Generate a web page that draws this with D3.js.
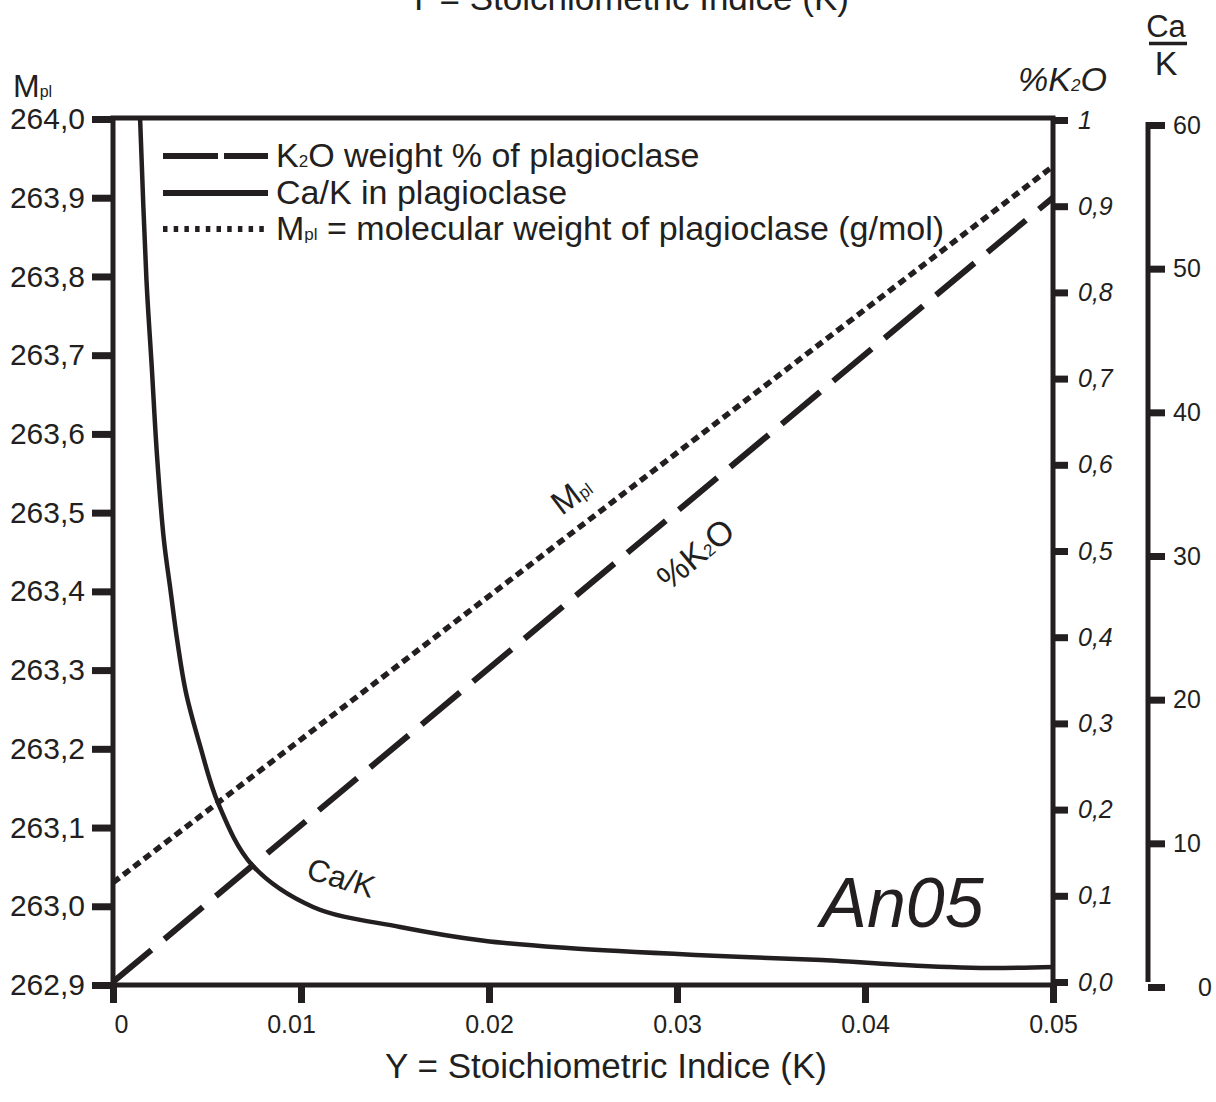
<!DOCTYPE html>
<html>
<head>
<meta charset="utf-8">
<script src="https://cdn.jsdelivr.net/npm/d3@7"></script>
<style>
  body { margin: 0; background: #fff; }
  text { font-family: "Liberation Sans", Arial, sans-serif; fill: #231f20; }
</style>
</head>
<body>
<svg id="chart"></svg>
<script>
const svgWidth = 1216, svgHeight = 1102;
const ink = '#231f20';

// ticks
const xTicks = [0, 0.01, 0.02, 0.03, 0.04, 0.05];
const xTickLabels = ['0', '0.01', '0.02', '0.03', '0.04', '0.05'];
const mplTicks = [262.9, 263.0, 263.1, 263.2, 263.3, 263.4, 263.5, 263.6, 263.7, 263.8, 263.9, 264.0];
const mplTickLabels = ['262,9', '263,0', '263,1', '263,2', '263,3', '263,4', '263,5', '263,6', '263,7', '263,8', '263,9', '264,0'];
const k2oTicks = [0, 0.1, 0.2, 0.3, 0.4, 0.5, 0.6, 0.7, 0.8, 0.9, 1];
const k2oTickLabels = ['0,0', '0,1', '0,2', '0,3', '0,4', '0,5', '0,6', '0,7', '0,8', '0,9', '1'];
const caKTicks = [0, 10, 20, 30, 40, 50, 60];
const caKTickLabels = ['0', '10', '20', '30', '40', '50', '60'];

// series (x = stoichiometric indice K)
const mplX = [0, 0.05];
const mplY = [263.03, 263.94];
const k2oX = [0, 0.05];
const k2oY = [0, 0.91];
const caKX = [0.00144, 0.00178, 0.00206, 0.00233, 0.0027, 0.00306, 0.00343, 0.00388, 0.00463, 0.00559,
              0.00739, 0.01064, 0.01527, 0.01973, 0.0242, 0.031, 0.0377, 0.0421, 0.0444, 0.0466, 0.05];
const caKY = [60.5, 49.2, 43.2, 37.2, 31.2, 27.6, 24.0, 20.5, 16.8, 12.8,
              8.5, 5.57, 4.18, 3.22, 2.71, 2.23, 1.88, 1.53, 1.39, 1.32, 1.39];

const svg = d3.select('#chart')
    .attr('width', svgWidth)
    .attr('height', svgHeight);

const x = d3.scaleLinear().domain([0, 0.05]).range([113, 1053]);
const yM = d3.scaleLinear().domain([262.9, 264.0]).range([985, 119]);
const yK = d3.scaleLinear().domain([0, 1]).range([982, 120]);
const yC = d3.scaleLinear().domain([0, 60]).range([987, 125]);

svg.append('clipPath').attr('id', 'plot')
    .append('rect')
    .attr('x', x(0)).attr('y', 118)
    .attr('width', x(0.05) - x(0)).attr('height', 985 - 118);

function styleAxis(g, size, italic) {
    g.select('.domain').remove();
    g.selectAll('line').attr('stroke', ink).attr('stroke-width', 7);
    g.selectAll('text')
        .attr('fill', ink)
        .style('font-size', size + 'px')
        .style('font-family', '"Liberation Sans", Arial, sans-serif')
        .style('font-style', italic ? 'italic' : 'normal');
}

// left axis: Mpl
svg.append('g')
    .attr('transform', `translate(${x(0)},0)`)
    .call(d3.axisLeft(yM).tickValues(mplTicks).tickFormat((d, i) => mplTickLabels[i]).tickSize(21).tickPadding(7))
    .call(g => styleAxis(g, 30, false));

// bottom axis
const xAxis = svg.append('g')
    .attr('transform', `translate(0,985)`)
    .call(d3.axisBottom(x).tickValues(xTicks).tickFormat((d, i) => xTickLabels[i]).tickSize(18).tickPadding(12))
    .call(g => styleAxis(g, 25, false));
xAxis.selectAll('.tick').filter(d => d === 0).select('text').attr('dx', 8);
xAxis.selectAll('.tick').filter(d => d === 0.01).select('text').attr('dx', -10);

// right axis: %K2O
svg.append('g')
    .attr('transform', `translate(${x(0.05)},0)`)
    .call(d3.axisRight(yK).tickValues(k2oTicks).tickFormat((d, i) => k2oTickLabels[i]).tickSize(15).tickPadding(10))
    .call(g => styleAxis(g, 25, true));

// far right axis: Ca/K
const caAxis = svg.append('g')
    .attr('transform', `translate(1148,0)`)
    .call(d3.axisRight(yC).tickValues(caKTicks).tickFormat((d, i) => caKTickLabels[i]).tickSize(17).tickPadding(8))
    .call(g => styleAxis(g, 25, false));
caAxis.selectAll('.tick').filter(d => d === 0).select('text').attr('dx', 25);
caAxis.append('line')
    .attr('x1', 0).attr('x2', 0)
    .attr('y1', yC(60) - 3).attr('y2', yC(0) - 5)
    .attr('stroke', ink).attr('stroke-width', 5);

// frame
svg.append('rect')
    .attr('x', x(0)).attr('y', 118)
    .attr('width', x(0.05) - x(0)).attr('height', 985 - 118)
    .attr('fill', 'none')
    .attr('stroke', ink)
    .attr('stroke-width', 5);

// series
const plotG = svg.append('g').attr('clip-path', 'url(#plot)');

const mplLine = d3.line().x(d => x(d[0])).y(d => yM(d[1]));
plotG.append('path')
    .datum(mplX.map((v, i) => [v, mplY[i]]))
    .attr('d', mplLine)
    .attr('fill', 'none').attr('stroke', ink)
    .attr('stroke-width', 5.5)
    .attr('stroke-dasharray', '8,5');

const k2oLine = d3.line().x(d => x(d[0])).y(d => yK(d[1]));
plotG.append('path')
    .datum(k2oX.map((v, i) => [v, k2oY[i]]))
    .attr('d', k2oLine)
    .attr('fill', 'none').attr('stroke', ink)
    .attr('stroke-width', 6)
    .attr('stroke-dasharray', '50,17');

const caLine = d3.line().x(d => x(d[0])).y(d => yC(d[1])).curve(d3.curveCatmullRom.alpha(0.5));
plotG.append('path')
    .datum(caKX.map((v, i) => [v, caKY[i]]))
    .attr('d', caLine)
    .attr('fill', 'none').attr('stroke', ink)
    .attr('stroke-width', 4.5);

// legend
const legend = [
    { dash: '55,6', parts: [['K', 34], ['2', 17], ['O weight % of plagioclase', 34]] },
    { dash: null, parts: [['Ca/K in plagioclase', 34]] },
    { dash: '4.5,6.2', parts: [['M', 34], ['pl', 17], [' = molecular weight of plagioclase (g/mol)', 34]] }
];
const legY = [156, 193, 229];
legend.forEach((l, i) => {
    svg.append('line')
        .attr('x1', 163).attr('x2', 268)
        .attr('y1', legY[i]).attr('y2', legY[i])
        .attr('stroke', ink).attr('stroke-width', 6)
        .attr('stroke-dasharray', l.dash);
    const t = svg.append('text')
        .attr('x', 276).attr('y', legY[i] + 11)
        .attr('xml:space', 'preserve');
    l.parts.forEach(p => t.append('tspan').style('font-size', p[1] + 'px').text(p[0]));
});

// axis titles
const mTitle = svg.append('text').attr('x', 13).attr('y', 97);
mTitle.append('tspan').style('font-size', '32px').text('M');
mTitle.append('tspan').style('font-size', '16px').text('pl');

const kTitle = svg.append('text').attr('x', 1018).attr('y', 91).style('font-style', 'italic');
kTitle.append('tspan').style('font-size', '34px').text('%K');
kTitle.append('tspan').style('font-size', '17px').text('2');
kTitle.append('tspan').style('font-size', '34px').text('O');

svg.append('text').attr('x', 1166).attr('y', 37)
    .attr('text-anchor', 'middle').style('font-size', '31px').text('Ca');
svg.append('line')
    .attr('x1', 1149).attr('x2', 1187).attr('y1', 43.5).attr('y2', 43.5)
    .attr('stroke', ink).attr('stroke-width', 3.5);
svg.append('text').attr('x', 1166).attr('y', 75)
    .attr('text-anchor', 'middle').style('font-size', '34px').text('K');

svg.append('text').attr('x', 628).attr('y', 10)
    .attr('text-anchor', 'middle').style('font-size', '35px')
    .text('Y = Stoichiometric Indice (K)');
svg.append('text').attr('x', 606).attr('y', 1078)
    .attr('text-anchor', 'middle').style('font-size', '35px')
    .text('Y = Stoichiometric Indice (K)');

// in-plot labels
svg.append('text').attr('x', 902).attr('y', 927)
    .attr('text-anchor', 'middle')
    .style('font-size', '70px').style('font-style', 'italic')
    .text('An05');

const mLab = svg.append('text')
    .attr('transform', 'translate(578,504) rotate(-37)')
    .attr('text-anchor', 'middle');
mLab.append('tspan').style('font-size', '33px').text('M');
mLab.append('tspan').style('font-size', '17px').text('pl');

const kLab = svg.append('text')
    .attr('transform', 'translate(703,563) rotate(-40)')
    .attr('text-anchor', 'middle');
kLab.append('tspan').style('font-size', '34px').text('%K');
kLab.append('tspan').style('font-size', '17px').text('2');
kLab.append('tspan').style('font-size', '34px').text('O');

svg.append('text')
    .attr('transform', 'translate(338,888) rotate(17)')
    .attr('text-anchor', 'middle')
    .style('font-size', '31px')
    .text('Ca/K');
</script>
</body>
</html>
